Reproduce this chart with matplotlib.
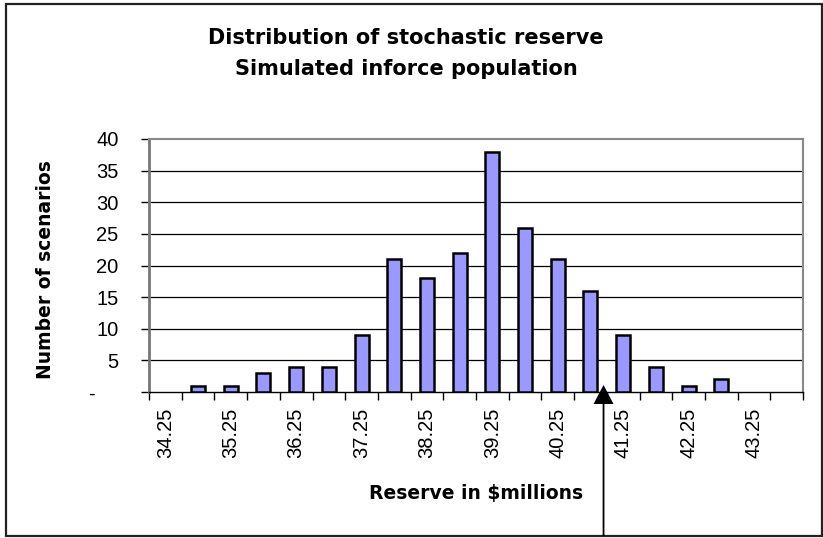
import matplotlib
matplotlib.use("Agg")
import matplotlib.pyplot as plt
from matplotlib.patches import Rectangle, FancyArrow
import numpy as np

plt.rcParams['font.family'] = ['Liberation Sans', 'DejaVu Sans']

categories = [34.25, 34.75, 35.25, 35.75, 36.25, 36.75, 37.25, 37.75, 38.25, 38.75,
              39.25, 39.75, 40.25, 40.75, 41.25, 41.75, 42.25, 42.75, 43.25, 43.75]
counts = [0, 1, 1, 3, 4, 4, 9, 21, 18, 22, 38, 26, 21, 16, 9, 4, 1, 2, 0, 0]
y_ticks = [0, 5, 10, 15, 20, 25, 30, 35, 40]
y_tick_labels = ['-    ', '5', '10', '15', '20', '25', '30', '35', '40']
marker_value = 40.95  # reserve level marked by the arrow

W, H = 823, 538
fig = plt.figure(figsize=(W / 100, H / 100), dpi=100)

# outer chart frame
fig.patches.append(Rectangle((6 / W, 1 - 536 / H), (822 - 6) / W, (536 - 4) / H,
                             transform=fig.transFigure, fill=False,
                             edgecolor='#222222', linewidth=1.6, zorder=0))

ax = fig.add_axes([149 / W, 1 - 392 / H, (803 - 149) / W, (392 - 139) / H])
x = np.arange(len(categories))
cnt = np.array(counts)
nz = cnt > 0
ax.bar(x[nz], cnt[nz], width=0.43, color='#9999FF', edgecolor='black', linewidth=1.8, zorder=3)

ax.set_xlim(-0.5, len(categories) - 0.5)
ax.set_ylim(0, 40)
ax.set_yticks(y_ticks)
ax.set_yticklabels(y_tick_labels, fontsize=14.5)
for yv in y_ticks[1:-1]:
    ax.axhline(yv, color='black', linewidth=0.9, zorder=1)

ax.set_xticks(x[::2])
ax.set_xticklabels([f"{c:.2f}" for c in categories[::2]], rotation=90, fontsize=14.5)
ax.set_xticks(np.arange(len(categories) + 1) - 0.5, minor=True)
ax.tick_params(axis='x', which='major', length=0, pad=11)
ax.tick_params(axis='x', which='minor', length=6, width=1, color='black', direction='out')
ax.tick_params(axis='y', length=6, width=1, direction='out', pad=16)

ax.spines['top'].set_color('#888888')
ax.spines['top'].set_linewidth(1.5)
ax.spines['right'].set_color('#888888')
ax.spines['right'].set_linewidth(1.5)
ax.spines['left'].set_color('#777777')
ax.spines['left'].set_linewidth(2)
ax.spines['bottom'].set_color('black')
ax.spines['bottom'].set_linewidth(1)

bold_font = ['DejaVu Sans']
fig.text(46 / W, 1 - 270 / H, 'Number of scenarios', rotation=90, ha='center', va='center',
         fontsize=13.5, fontweight='bold', family=bold_font)
fig.text(476 / W, 1 - 493 / H, 'Reserve in $millions', ha='center', va='center',
         fontsize=13.5, fontweight='bold', family=bold_font)

fig.text(406 / W, 1 - 38 / H, 'Distribution of stochastic reserve', ha='center', va='center',
         fontsize=15, fontweight='bold', family=bold_font)
fig.text(406 / W, 1 - 69 / H, 'Simulated inforce population', ha='center', va='center',
         fontsize=15, fontweight='bold', family=bold_font)

# arrow marker pointing at the chosen reserve level
mx = (marker_value - categories[0]) / (categories[1] - categories[0])
disp_x = ax.transData.transform((mx, 0))[0]
fx = disp_x / W
fig.add_artist(FancyArrow(fx, 1 - 536 / H, 0, (536 - 385) / H,
                          width=1.8 / W, head_width=20 / W, head_length=19 / H,
                          length_includes_head=True, facecolor='black', edgecolor='none',
                          linewidth=0, transform=fig.transFigure))

fig.savefig('out.png', dpi=100)
